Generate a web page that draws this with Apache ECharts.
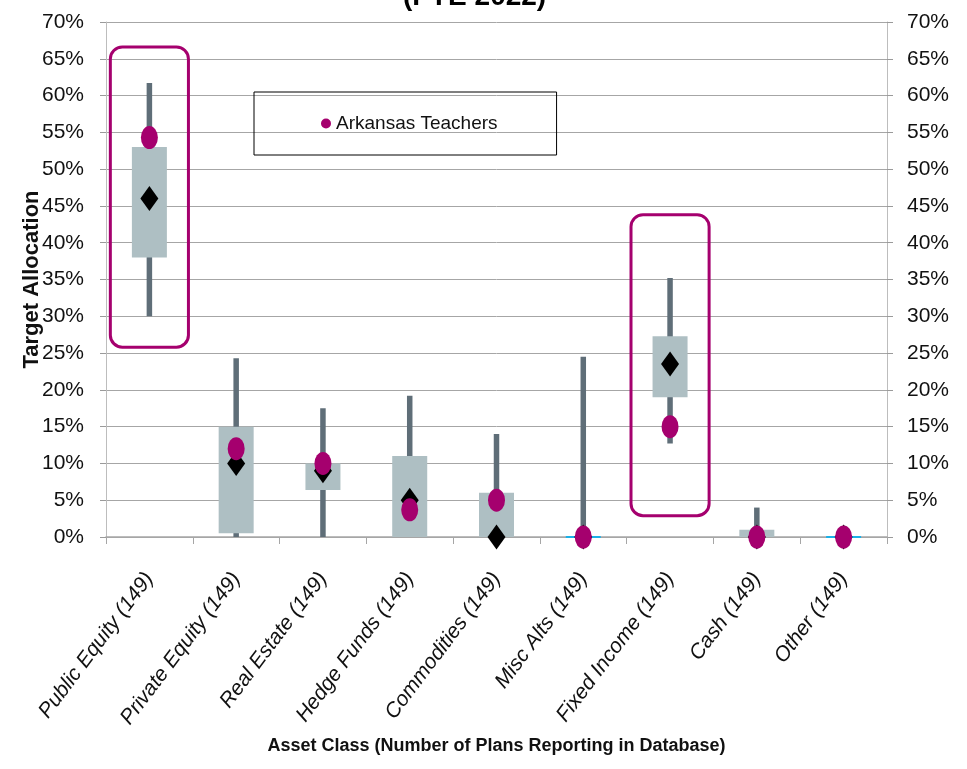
<!DOCTYPE html>
<html>
<head>
<meta charset="utf-8">
<script src="https://cdn.jsdelivr.net/npm/echarts@6/dist/echarts.min.js"></script>
<style>
html,body{margin:0;padding:0;background:#fff;}
#chart{width:967px;height:769px;}
</style>
</head>
<body>
<div id="chart"></div>
<script>
// ---- data ----
var categories = ['Public Equity (149)', 'Private Equity (149)', 'Real Estate (149)', 'Hedge Funds (149)', 'Commodities (149)', 'Misc Alts (149)', 'Fixed Income (149)', 'Cash (149)', 'Other (149)'];
var minVals = [30, 0, 0, 0, 0, 0, 12.7, 0, 0];
var maxVals = [61.7, 24.3, 17.5, 19.2, 14, 24.5, 35.2, 4, 0];
var q1Vals = [38, 0.5, 6.4, 0, 0, 0, 19, 0, 0];
var q3Vals = [53, 15, 10, 11, 6, 0, 27.3, 1, 0];
var medianVals = [46, 10, 9, 5, 0, 0, 23.5, 0, 0];
var arkansasVals = [54.3, 12, 10, 3.7, 5, 0, 15, 0, 0];
var highlightCats = [0, 6];
var highlightLow = [25.8, 2.9];
var highlightHigh = [66.6, 43.8];
var yTicks = { min: 0, max: 70, interval: 5 };
var titleText = '(FYE 2022)';
var seriesName = 'Arkansas Teachers';

// ---- styles ----
var FONT = "'Liberation Sans', Arial, sans-serif";
var MAGENTA = '#A5006E';
var WHISKER = '#5F6E78';
var BOX = '#AEBFC3';
var CYAN = '#1AB0E8';
var ELLIPSE = 'path://M50 0A50 50 0 1 1 50 100A50 50 0 1 1 50 0Z';

var whiskerData = categories.map(function (c, i) { return [i, minVals[i], maxVals[i]]; });
var boxData = categories.map(function (c, i) { return [i, q1Vals[i], q3Vals[i]]; });
var highlightData = highlightCats.map(function (c, i) { return [c, highlightLow[i], highlightHigh[i]]; });

var chart = echarts.init(document.getElementById('chart'), null, { renderer: 'canvas' });

var yAxisCommon = {
  type: 'value',
  min: yTicks.min, max: yTicks.max, interval: yTicks.interval,
  axisLine: { show: true, lineStyle: { color: '#BDBDBD', width: 1 } },
  axisTick: { show: true, length: 6, lineStyle: { color: '#9A9A9A' } },
  axisLabel: { formatter: '{value}%', fontSize: 21, color: '#111', fontFamily: FONT }
};

chart.setOption({
  animation: false,
  textStyle: { fontFamily: FONT },
  title: {
    text: titleText, left: 403, top: -17, padding: 0,
    textStyle: { fontSize: 28, fontWeight: 'bold', color: '#000', fontFamily: FONT }
  },
  legend: {
    data: [seriesName],
    left: 254, top: 92,
    padding: [22, 59, 22, 67],
    borderColor: '#000', borderWidth: 1,
    itemWidth: 10, itemHeight: 14,
    icon: ELLIPSE,
    textStyle: { fontSize: 19, color: '#111', fontFamily: FONT }
  },
  grid: { left: 106, right: 80, top: 22, bottom: 232, containLabel: false },
  xAxis: {
    type: 'category',
    data: categories,
    boundaryGap: true,
    axisLine: { show: true, lineStyle: { color: '#A6A6A6', width: 1.5 } },
    axisTick: { show: true, length: 7, alignWithLabel: false, lineStyle: { color: '#A6A6A6' } },
    axisLabel: { interval: 0, rotate: 53, fontSize: 21, fontStyle: 'italic', color: '#111', margin: 38, fontFamily: FONT },
    name: 'Asset Class (Number of Plans Reporting in Database)',
    nameLocation: 'middle', nameGap: 200, nameMoveOverlap: false,
    nameTextStyle: { fontSize: 18, fontWeight: 'bold', color: '#111', fontFamily: FONT }
  },
  yAxis: [
    Object.assign({}, yAxisCommon, {
      position: 'left',
      splitLine: { show: true, lineStyle: { color: '#A6A6A6', width: 1 } },
      axisLabel: Object.assign({}, yAxisCommon.axisLabel, { margin: 22 }),
      name: 'Target Allocation', nameLocation: 'middle', nameGap: 63, nameMoveOverlap: false,
      nameTextStyle: { fontSize: 22, fontWeight: 'bold', color: '#111', fontFamily: FONT }
    }),
    Object.assign({}, yAxisCommon, {
      position: 'right',
      splitLine: { show: false },
      axisLabel: Object.assign({}, yAxisCommon.axisLabel, { margin: 20 })
    })
  ],
  series: [
    {
      type: 'custom', name: 'Range', z: 2,
      data: whiskerData,
      encode: { x: 0, y: [1, 2] },
      renderItem: function (params, api) {
        var lo = api.coord([api.value(0), api.value(1)]);
        var hi = api.coord([api.value(0), api.value(2)]);
        return { type: 'rect', shape: { x: lo[0] - 2.75, y: hi[1], width: 5.5, height: lo[1] - hi[1] }, style: { fill: WHISKER } };
      }
    },
    {
      type: 'custom', name: 'Quartiles', z: 3,
      data: boxData,
      encode: { x: 0, y: [1, 2] },
      renderItem: function (params, api) {
        var lo = api.coord([api.value(0), api.value(1)]);
        var hi = api.coord([api.value(0), api.value(2)]);
        var w = 35;
        if (lo[1] - hi[1] < 0.5) {
          return { type: 'line', shape: { x1: lo[0] - w / 2, y1: lo[1], x2: lo[0] + w / 2, y2: lo[1] }, style: { stroke: CYAN, lineWidth: 2 } };
        }
        return { type: 'rect', shape: { x: lo[0] - w / 2, y: hi[1], width: w, height: lo[1] - hi[1] }, style: { fill: BOX } };
      }
    },
    {
      type: 'scatter', name: 'Median', z: 4,
      data: medianVals,
      symbol: 'diamond', symbolSize: [18, 25],
      itemStyle: { color: '#000', opacity: 1 }
    },
    {
      type: 'scatter', name: seriesName, z: 5,
      data: arkansasVals,
      symbol: ELLIPSE, symbolSize: [17, 23],
      itemStyle: { color: MAGENTA, opacity: 1 }
    },
    {
      type: 'custom', name: 'Highlight', z: 6,
      data: highlightData,
      encode: { x: 0, y: [1, 2] },
      renderItem: function (params, api) {
        var lo = api.coord([api.value(0), api.value(1)]);
        var hi = api.coord([api.value(0), api.value(2)]);
        var bw = api.size([1, 0])[0] * 0.9;
        return { type: 'rect', shape: { x: lo[0] - bw / 2, y: hi[1], width: bw, height: lo[1] - hi[1], r: 12 }, style: { fill: 'none', stroke: MAGENTA, lineWidth: 3 } };
      }
    }
  ]
});
</script>
</body>
</html>
